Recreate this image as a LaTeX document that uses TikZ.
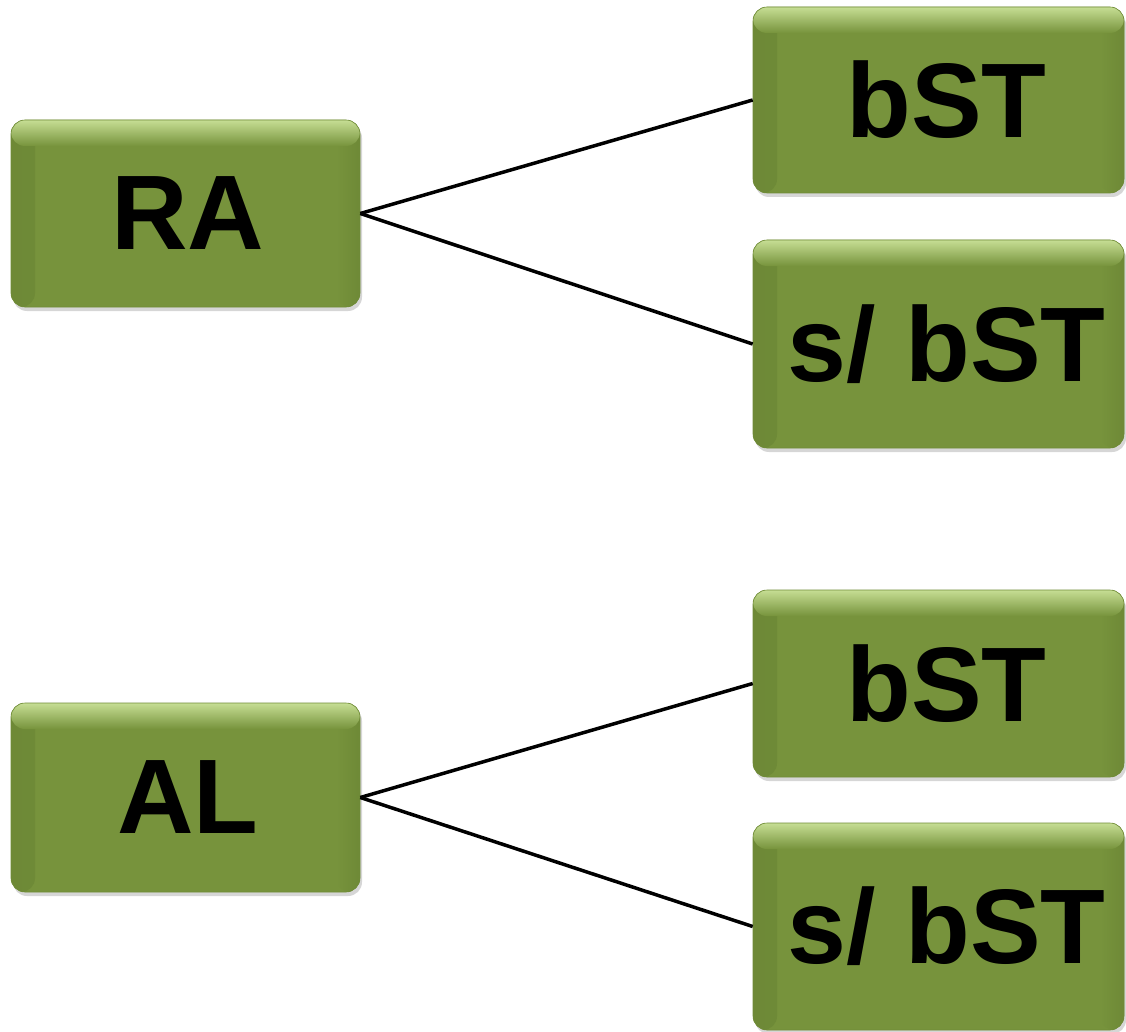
\documentclass[tikz,border=0pt]{standalone}
\usepackage{fontspec}
\setmainfont{Liberation Sans}
\usetikzlibrary{shadows}
\definecolor{boxgreen}{HTML}{77933C}
\definecolor{boxlight}{HTML}{C6DE94}
\definecolor{boxdark}{HTML}{6A8534}
\tikzset{
  box/.style={rectangle, rounded corners=14pt, fill=boxgreen, draw=boxdark!60!boxgreen, line width=0.6pt,
    drop shadow={shadow xshift=2pt, shadow yshift=-4pt, fill=black!40, opacity=0.4},
    font=\fontsize{106}{110}\selectfont\bfseries, text=black, inner sep=0pt,
    path picture={
      \shade[left color=boxdark!70!boxgreen, right color=boxgreen]
        (path picture bounding box.south west) rectangle ([xshift=24pt]path picture bounding box.north west);
      \shade[left color=boxgreen, right color=boxdark!70!boxgreen]
        ([xshift=-24pt]path picture bounding box.south east) rectangle (path picture bounding box.north east);
      \shade[top color=boxlight, bottom color=boxgreen]
        (path picture bounding box.north west) rectangle ([yshift=-26pt]path picture bounding box.north east);
    }},
  link/.style={line width=3.5pt, black}
}
\begin{document}
\begin{tikzpicture}[x=1pt,y=-1pt]
\useasboundingbox (0,0) rectangle (1126,1032);
\node[box, minimum width=349pt, minimum height=187pt] (ra) at (185.5,213.5) {\hspace*{5pt}RA};
\node[box, minimum width=371pt, minimum height=186pt] (b1) at (938.5,100) {\hspace*{16pt}bST};
\node[box, minimum width=371pt, minimum height=208pt] (s1) at (938.5,344) {\hspace*{16pt}s/ bST};
\node[box, minimum width=349pt, minimum height=189pt] (al) at (185.5,797.5) {\hspace*{5pt}AL};
\node[box, minimum width=371pt, minimum height=187pt] (b2) at (938.5,683.5) {\hspace*{16pt}bST};
\node[box, minimum width=371pt, minimum height=207pt] (s2) at (938.5,926.5) {\hspace*{16pt}s/ bST};
\draw[link] (ra.east) -- (b1.west);
\draw[link] (ra.east) -- (s1.west);
\draw[link] (al.east) -- (b2.west);
\draw[link] (al.east) -- (s2.west);
\end{tikzpicture}
\end{document}
